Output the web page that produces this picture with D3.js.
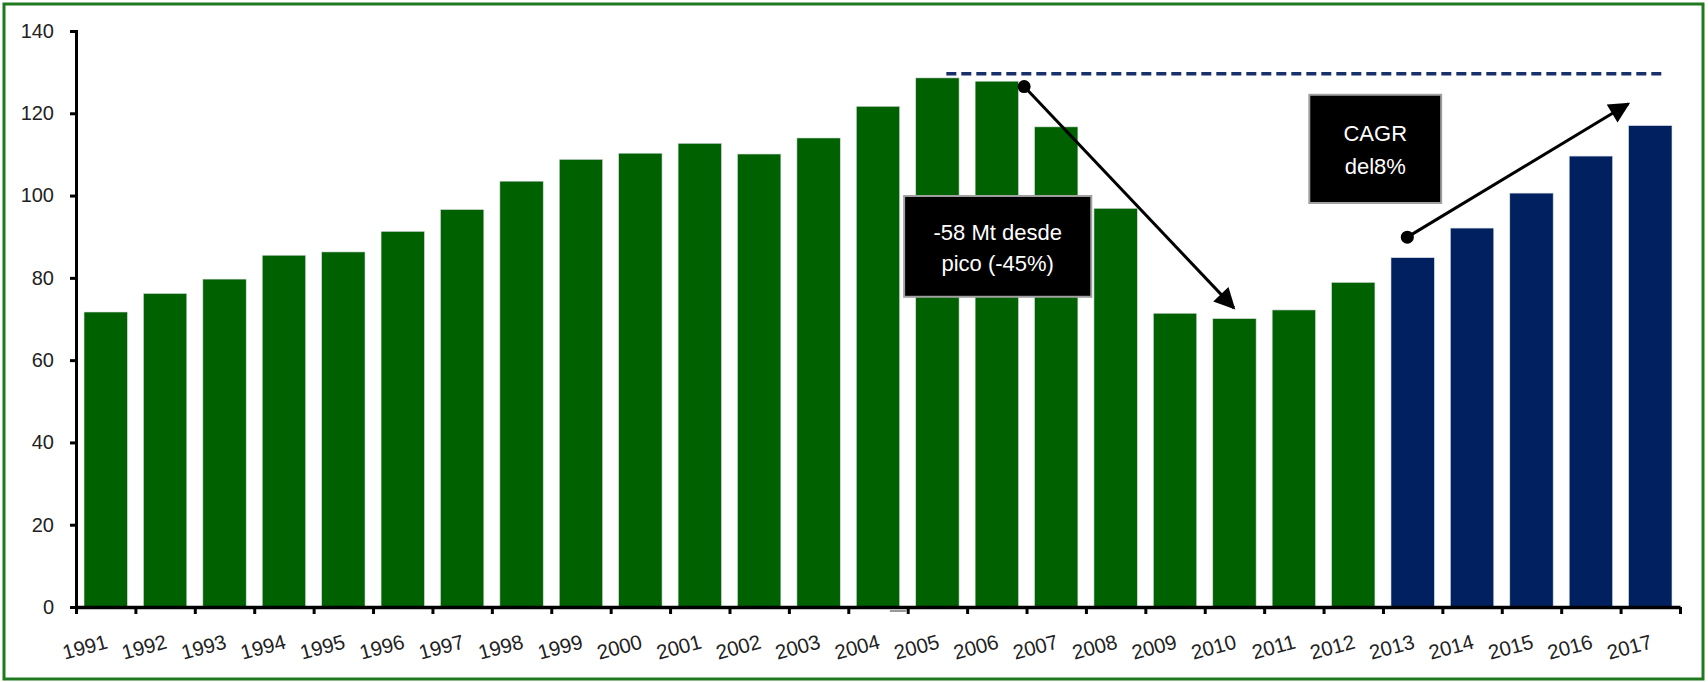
<!DOCTYPE html>
<html>
<head>
<meta charset="utf-8">
<script src="https://cdn.jsdelivr.net/npm/d3@7"></script>
<style>
  html, body { margin: 0; padding: 0; background: #fff; }
  svg text { font-family: "Liberation Sans", Arial, sans-serif; }
</style>
</head>
<body>
<div id="chart"></div>
<script>
// data
var years = d3.range(1991, 2018);
var values = [71.7, 76.2, 79.7, 85.5, 86.3, 91.3, 96.6, 103.5, 108.8, 110.3,
              112.7, 110.1, 114.0, 121.7, 128.6, 127.8, 116.7, 96.9, 71.4, 70.1,
              72.2, 78.9, 84.9, 92.1, 100.6, 109.6, 117.0];
var forecastFrom = 2013;
var yTicks = [0, 20, 40, 60, 80, 100, 120, 140];
var peakLevel = 129.6;
var boxDrop = ["-58 Mt desde", "pico (-45%)"];
var boxCagr = ["CAGR", "del8%"];

var width = 1708, height = 682;
var plotLeft = 76, plotRight = 1680, plotTop = 31, plotBottom = 607;

var svg = d3.select("#chart").append("svg")
  .attr("width", width)
  .attr("height", height);

// outer frame
svg.append("rect")
  .attr("x", 4).attr("y", 4)
  .attr("width", 1699).attr("height", 675)
  .attr("fill", "#fff")
  .attr("stroke", "#1f7a1f")
  .attr("stroke-width", 3);

var x = d3.scaleBand()
  .domain(years)
  .range([plotLeft, plotRight])
  .paddingInner(0.27)
  .paddingOuter(0.135);

var xIdx = d3.scaleLinear().domain([0, years.length]).range([plotLeft, plotRight]);

var y = d3.scaleLinear().domain([0, 140]).range([plotBottom, plotTop]);

// position inside a category slot (frac 0..1 of the step)
function slotX(year, frac) {
  return x(year) - x.step() * x.paddingInner() / 2 + frac * x.step();
}

// bars
svg.append("g").selectAll("rect")
  .data(years)
  .enter().append("rect")
  .attr("x", function(d) { return x(d); })
  .attr("width", x.bandwidth())
  .attr("y", function(d, i) { return y(values[i]); })
  .attr("height", function(d, i) { return plotBottom - y(values[i]); })
  .attr("fill", function(d) { return d >= forecastFrom ? "#00205f" : "#006100"; })
  .attr("stroke", "#d8dde0")
  .attr("stroke-width", 0.6);

// y axis
var gy = svg.append("g")
  .attr("transform", "translate(" + plotLeft + ",0)")
  .call(d3.axisLeft(y).tickValues(yTicks).tickSize(6).tickPadding(16));
gy.select(".domain").attr("stroke", "#000").attr("stroke-width", 3);
gy.selectAll(".tick line").attr("stroke", "#000").attr("stroke-width", 3);
gy.selectAll("text").attr("font-size", 20).attr("fill", "#222")
  .style("font-family", "'Liberation Sans', Arial, sans-serif");

// x axis: boundary ticks
var gxt = svg.append("g")
  .attr("transform", "translate(0," + plotBottom + ")")
  .call(d3.axisBottom(xIdx).tickValues(d3.range(years.length + 1)).tickFormat("").tickSize(7).tickSizeOuter(0));
gxt.select(".domain").attr("stroke", "#000").attr("stroke-width", 3.5);
gxt.selectAll(".tick line").attr("stroke", "#000").attr("stroke-width", 3);

// x axis: labels
var gx = svg.append("g")
  .attr("transform", "translate(0," + plotBottom + ")")
  .call(d3.axisBottom(x).tickSize(0));
gx.select(".domain").remove();
gx.selectAll("text")
  .attr("x", 0).attr("y", 0).attr("dy", 0)
  .attr("transform", "translate(3,41) rotate(-15)")
  .style("text-anchor", "end")
  .style("font-family", "'Liberation Sans', Arial, sans-serif")
  .attr("font-size", 20.5)
  .attr("fill", "#222");

// small grey mark under 2004
svg.append("line")
  .attr("x1", slotX(2004, 0.7)).attr("x2", slotX(2004, 0.98))
  .attr("y1", plotBottom + 4).attr("y2", plotBottom + 4)
  .attr("stroke", "#999").attr("stroke-width", 2);

// peak dashed line
svg.append("line")
  .attr("x1", slotX(2005, 0.65)).attr("x2", slotX(2017, 0.75))
  .attr("y1", y(peakLevel)).attr("y2", y(peakLevel))
  .attr("stroke", "#17306a")
  .attr("stroke-width", 3.5)
  .attr("stroke-dasharray", "10,5");

// arrows
var defs = svg.append("defs");
defs.append("marker")
  .attr("id", "head")
  .attr("viewBox", "0 0 10 10")
  .attr("refX", 9).attr("refY", 5)
  .attr("markerWidth", 8).attr("markerHeight", 7)
  .attr("markerUnits", "strokeWidth")
  .attr("orient", "auto")
  .append("path")
  .attr("d", "M0,0 L10,5 L0,10 z")
  .attr("fill", "#000");

var arrows = [
  { x1: slotX(2006, 0.96), y1: y(126.5), x2: slotX(2010, 0.49), y2: y(72.7) },
  { x1: slotX(2013, 0.41), y1: y(89.9), x2: slotX(2017, 0.13), y2: y(122.3) }
];
arrows.forEach(function(a) {
  svg.append("line")
    .attr("x1", a.x1).attr("y1", a.y1)
    .attr("x2", a.x2).attr("y2", a.y2)
    .attr("stroke", "#000")
    .attr("stroke-width", 3)
    .attr("marker-end", "url(#head)");
  svg.append("circle")
    .attr("cx", a.x1).attr("cy", a.y1)
    .attr("r", 6.5)
    .attr("fill", "#000");
});

// annotation boxes
function box(x0, x1, v0, v1, lines, lineYs) {
  svg.append("rect")
    .attr("x", x0).attr("y", y(v0))
    .attr("width", x1 - x0).attr("height", y(v1) - y(v0))
    .attr("fill", "#000")
    .attr("stroke", "#a0a0a0")
    .attr("stroke-width", 2);
  svg.selectAll(null)
    .data(lines)
    .enter().append("text")
    .attr("x", (x0 + x1) / 2)
    .attr("y", function(d, i) { return lineYs[i]; })
    .attr("dy", "0.35em")
    .attr("text-anchor", "middle")
    .attr("font-size", 22)
    .attr("fill", "#fff")
    .text(function(d) { return d; });
}
box(slotX(2004, 0.94), slotX(2008, 0.09), 99.9, 75.4, boxDrop, [232, 263]);
box(slotX(2011, 0.76), slotX(2013, 0.98), 124.5, 98.2, boxCagr, [133, 166]);
</script>
</body>
</html>
